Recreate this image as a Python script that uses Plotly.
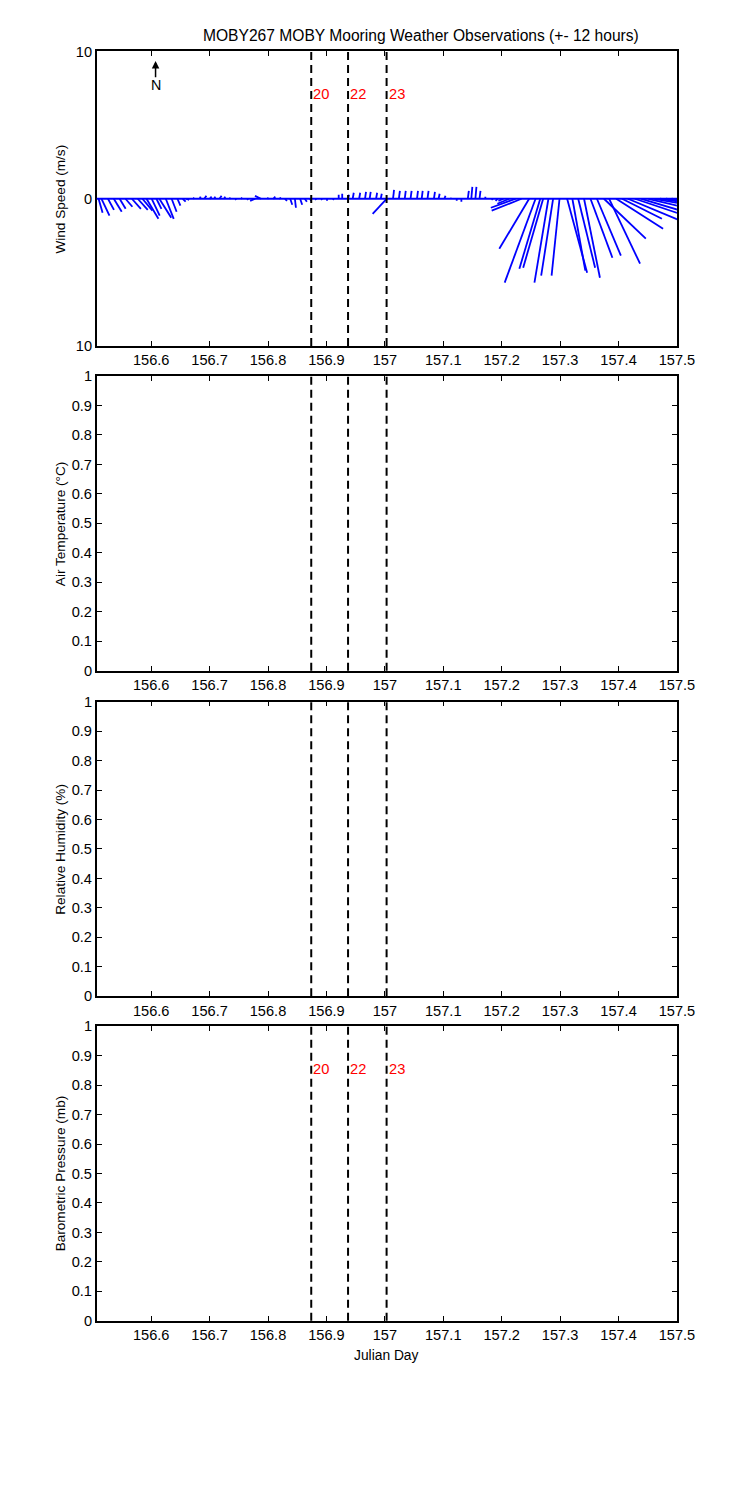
import plotly.graph_objects as go

# ---------------- data ----------------
wind_time = [
    156.510, 156.515, 156.526, 156.536, 156.546, 156.556, 156.567, 156.577, 156.585, 156.592,
    156.601, 156.609, 156.614, 156.625, 156.635, 156.645, 156.654, 156.660,
    156.672, 156.683, 156.691, 156.700, 156.708, 156.717, 156.725, 156.734, 156.744, 156.754,
    156.766, 156.778, 156.788, 156.799, 156.809, 156.819, 156.829, 156.838, 156.846, 156.855,
    156.863, 156.872, 156.881, 156.891, 156.901, 156.911, 156.921,
    156.927, 156.937, 156.945, 156.956, 156.966, 156.974, 156.985, 156.993, 157.003, 157.014,
    157.024, 157.034, 157.044, 157.055, 157.063, 157.073, 157.084, 157.092, 157.102, 157.113,
    157.123, 157.131, 157.142, 157.148, 157.155, 157.162, 157.172, 157.183,
    157.193, 157.203, 157.213, 157.224, 157.234,
    157.247, 157.258, 157.266, 157.271, 157.280, 157.288, 157.299, 157.312, 157.321, 157.331,
    157.341, 157.352, 157.363, 157.375, 157.384, 157.396, 157.406, 157.416, 157.428, 157.439,
    157.451, 157.461, 157.471, 157.481, 157.491,
]
wind_u = [
    0.27, 0.54, 0.41, 0.54, 0.41, 0.47, 0.61, 0.68, 0.68, 0.81,
    0.54, 0.34, 0.81, 0.54, 0.34, 0.20, 0.20, 0.20,
    0.07, 0.07, 0.14, 0.14, 0.07, 0.14, 0.07, 0.07, 0.07, 0.07,
    -0.07, -0.34, -0.41, 0.07, 0.14, 0.14, 0.14, 0.14, 0.07, 0.14,
    0.14, 0.07, 0.07, 0.07, 0.00, 0.07, 0.00,
    0.00, 0.07, 0.07, 0.07, 0.07, 0.07, 0.07, 0.07, -0.95, 0.07,
    0.07, 0.07, 0.07, 0.07, 0.07, 0.07, 0.07, 0.07, 0.07, 0.00,
    0.00, 0.00, 0.07, 0.07, 0.07, 0.07, 0.00, 0.07,
    -0.14, -0.34, -0.81, -1.69, -2.03,
    -2.03, -2.10, -1.42, -1.36, -0.95, -0.81, -0.54, 1.36, 0.88, 1.15,
    1.08, 1.49, 1.63, 2.85, 2.10, 3.19, 2.71, 4.07, 4.07, 3.39,
    3.39, 3.05, 2.71, 2.03, 1.36,
]
wind_v = [
    -0.95, -1.15, -0.75, -0.88, -0.68, -0.54, -0.68, -0.75, -0.81, -1.36,
    -1.15, -0.68, -1.29, -1.36, -0.88, -0.47, -0.20, -0.07,
    0.07, 0.14, 0.20, 0.14, 0.14, 0.20, 0.14, 0.07, -0.07, 0.07,
    -0.07, -0.14, 0.20, 0.07, 0.14, 0.07, -0.14, -0.41, -0.61, -0.41,
    -0.20, -0.14, -0.07, -0.07, -0.14, -0.07, 0.27,
    0.34, 0.27, 0.41, 0.41, 0.47, 0.47, 0.41, 0.34, -1.02, 0.61,
    0.54, 0.54, 0.54, 0.54, 0.54, 0.54, 0.47, 0.34, 0.20, 0.07,
    -0.14, -0.20, 0.54, 0.81, 0.81, 0.54, 0.14, -0.07,
    -0.14, -0.14, -0.34, -0.61, -0.81,
    -3.39, -5.69, -4.75, -4.68, -5.69, -5.22, -5.22, -5.02, -4.88, -4.68,
    -5.36, -4.00, -3.86, -2.71, -4.41, -2.03, -1.36, -1.69, -1.36, -1.02,
    -0.81, -0.54, -0.41, -0.27, -0.20,
]

event_times = [156.874, 156.937, 157.003]
event_labels = ["20", "22", "23"]

x_tick_vals = [156.6, 156.7, 156.8, 156.9, 157.0, 157.1, 157.2, 157.3, 157.4, 157.5]
x_tick_text = ["156.6", "156.7", "156.8", "156.9", "157", "157.1", "157.2", "157.3", "157.4", "157.5"]
unit_tick_vals = [0, 0.1, 0.2, 0.3, 0.4, 0.5, 0.6, 0.7, 0.8, 0.9, 1.0]
unit_tick_text = ["0", "0.1", "0.2", "0.3", "0.4", "0.5", "0.6", "0.7", "0.8", "0.9", "1"]
wind_tick_vals = [-10, 0, 10]
wind_tick_text = ["10", "0", "10"]

panel_titles = ["Wind Speed (m/s)", "Air Temperature (\u00b0C)", "Relative Humidity (%)", "Barometric Pressure (mb)"]
chart_title = "MOBY267 MOBY Mooring Weather Observations (+- 12 hours)"
x_title = "Julian Day"

# ---------------- layout constants ----------------
FW, FH = 750, 1500
# observed placement of the figure in the photographed page
SX0, SY0, SCX, SCY = 8.0, 14.5, 0.979, 0.9906
# target positions (photo pixels)
X_LEFT, X_RIGHT = 97, 679
PANELS = [(50, 345), (375, 670), (701, 996), (1026, 1321)]
X_RANGE = [156.5068, 157.5]
WIND_RANGE = [-10, 10]
FONT = "Liberation Sans, Arial, sans-serif"


def px(x):
    return (x - SX0) / SCX / FW


def py(y):
    return 1 - (y - SY0) / SCY / FH


# stick scale: days per (m/s) so that sticks keep true angles on screen
days_per_px = (X_RANGE[1] - X_RANGE[0]) / (X_RIGHT - X_LEFT)
px_per_ms = (PANELS[0][1] - PANELS[0][0]) / (WIND_RANGE[1] - WIND_RANGE[0])
k = days_per_px * px_per_ms

sx, sy = [], []
for t, u, v in zip(wind_time, wind_u, wind_v):
    sx += [t, t + u * k, None]
    sy += [0, v, None]

fig = go.Figure()
fig.add_trace(go.Scatter(x=sx, y=sy, mode="lines", line=dict(color="#0000ff", width=1.8),
                         xaxis="x", yaxis="y", hoverinfo="skip", showlegend=False))
for i in range(2, 5):
    fig.add_trace(go.Scatter(x=[None], y=[None], mode="lines", xaxis=f"x{i}", yaxis=f"y{i}",
                             showlegend=False))

TICK_FONT = dict(family=FONT, size=14.6, color="black")
common_x = dict(range=X_RANGE, domain=[px(X_LEFT), px(X_RIGHT)], showline=True, linecolor="black",
                linewidth=1.6, mirror="allticks", ticks="inside", ticklen=5, tickcolor="black",
                tickwidth=1, showgrid=False, zeroline=False, tickvals=x_tick_vals,
                ticktext=x_tick_text, tickfont=TICK_FONT)
common_y = dict(showline=True, linecolor="black", linewidth=1.6, mirror="allticks", ticks="inside",
                ticklen=5, tickcolor="black", tickwidth=1, showgrid=False, zeroline=False,
                tickfont=TICK_FONT)

lay = dict(width=FW, height=FH, autosize=False, margin=dict(l=0, r=0, t=0, b=0),
           plot_bgcolor="white", paper_bgcolor="white", showlegend=False)
for i, (top, bot) in enumerate(PANELS, start=1):
    sfx = "" if i == 1 else str(i)
    dom = [py(bot), py(top)]
    lay[f"xaxis{sfx}"] = dict(common_x, anchor=f"y{sfx}")
    if i == 1:
        lay["yaxis"] = dict(common_y, domain=dom, anchor="x", range=WIND_RANGE,
                            tickvals=wind_tick_vals, ticktext=wind_tick_text)
    else:
        lay[f"yaxis{sfx}"] = dict(common_y, domain=dom, anchor=f"x{sfx}", range=[0, 1],
                                  tickvals=unit_tick_vals, ticktext=unit_tick_text)
fig.update_layout(**lay)

shapes = []
# zero baseline of the stick plot
shapes.append(dict(type="line", xref="x domain", yref="y", x0=0, x1=1, y0=0, y1=0,
                   line=dict(color="#0000ff", width=2)))
for i in range(1, 5):
    sfx = "" if i == 1 else str(i)
    for t in event_times:
        shapes.append(dict(type="line", xref=f"x{sfx}", yref=f"y{sfx} domain", x0=t, x1=t, y0=0, y1=1,
                           line=dict(color="black", width=2, dash="8px,5px")))
fig.update_layout(shapes=shapes)

ann = []
ann.append(dict(text=chart_title, x=px(422), y=py(34), xref="paper", yref="paper",
                showarrow=False, xanchor="center", yanchor="middle",
                font=dict(family=FONT, size=15.6, color="black")))
for (top, bot), ttl in zip(PANELS, panel_titles):
    ann.append(dict(text=ttl, x=px(61), y=py((top + bot) / 2), xref="paper", yref="paper",
                    showarrow=False, textangle=-90, xanchor="center", yanchor="middle",
                    font=dict(family=FONT, size=13.6, color="black")))
ann.append(dict(text=x_title, x=px((X_LEFT + X_RIGHT) / 2), y=py(1356), xref="paper", yref="paper",
                showarrow=False, xanchor="center", yanchor="middle",
                font=dict(family=FONT, size=13.8, color="black")))
for t, lab in zip(event_times, event_labels):
    ann.append(dict(text=lab, x=t, y=7.1, xref="x", yref="y", showarrow=False, xanchor="left",
                    yanchor="middle", font=dict(family=FONT, size=14.7, color="red")))
    ann.append(dict(text=lab, x=t, y=0.854, xref="x4", yref="y4", showarrow=False, xanchor="left",
                    yanchor="middle", font=dict(family=FONT, size=14.7, color="red")))
# north arrow
ann.append(dict(text="", x=156.6075, y=9.35, ax=156.6075, ay=8.15, xref="x", yref="y",
                axref="x", ayref="y", showarrow=True, arrowhead=2, arrowsize=1, arrowwidth=1.5,
                arrowcolor="black"))
ann.append(dict(text="N", x=156.6075, y=7.75, xref="x", yref="y", showarrow=False,
                xanchor="center", yanchor="middle", font=dict(family=FONT, size=14.3, color="black")))
fig.update_layout(annotations=ann)

fig.write_html("out.html")
